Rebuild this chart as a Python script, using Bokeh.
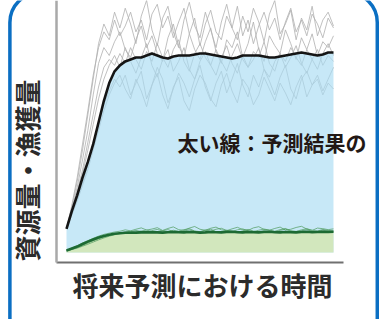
import math
from bokeh.plotting import figure
from bokeh.models import Range1d, FixedTicker, Label, BoxAnnotation, LinearAxis
from bokeh.embed import file_html
from bokeh.resources import INLINE

# ---- data ----
time = [0, 2, 4, 6, 8, 10, 12, 14, 16, 18,
        20, 22, 24, 26, 28, 30, 32, 34, 36, 38,
        40, 42, 44, 46, 48, 50, 52, 54, 56, 58,
        60, 62, 64, 66, 68, 70, 72, 74, 76, 78,
        80, 82, 84, 86, 88, 90, 92, 94, 96, 98,
        100]

# projected stock size: mean (thick black) and individual runs (grey)
stock_mean = [12, 21, 29, 38, 46, 55, 66, 77, 86, 92,
              95, 97, 98, 99, 99, 100, 101, 100, 99, 98.5,
              99.5, 100, 100, 100, 100.5, 101, 101, 100.5, 100, 99.5,
              99, 98.5, 99, 100, 100, 100, 100, 99.5, 99, 99,
              99.5, 100, 100.5, 101, 101.5, 101, 100.5, 100, 100.5, 101.5,
              101.5]

stock_run_a = [12, 24, 38, 55, 72, 90, 104, 112, 108, 118,
               110, 115, 122, 112, 118, 108, 121, 126, 114, 120,
               109, 117, 124, 111, 119, 105, 116, 123, 112, 108,
               120, 114, 125, 110, 118, 106, 115, 122, 113, 119,
               108, 117, 124, 112, 118, 110, 121, 116, 109, 119,
               114]
stock_run_b = [12, 20, 27, 35, 44, 55, 66, 75, 82, 88,
               84, 90, 80, 86, 92, 78, 85, 94, 88, 76,
               83, 91, 86, 79, 88, 95, 84, 77, 86, 92,
               81, 88, 96, 85, 79, 90, 84, 93, 87, 80,
               89, 95, 83, 78, 88, 92, 85, 90, 82, 88,
               94]
stock_run_c = [12, 22, 33, 47, 62, 80, 96, 104, 100, 107,
               112, 103, 99, 108, 115, 104, 110, 101, 97, 109,
               116, 105, 99, 111, 103, 98, 107, 114, 102, 96,
               108, 104, 112, 99, 106, 117, 103, 97, 110, 105,
               101, 113, 106, 98, 109, 103, 111, 100, 107, 104,
               110]
stock_run_d = [12, 19, 26, 34, 42, 52, 62, 72, 80, 86,
               90, 83, 78, 88, 82, 74, 85, 91, 80, 73,
               84, 89, 77, 72, 83, 90, 86, 78, 74, 85,
               91, 82, 76, 88, 84, 75, 80, 89, 83, 77,
               86, 81, 75, 84, 90, 79, 85, 88, 80, 86,
               83]
stock_run_e = [12, 23, 36, 52, 70, 88, 106, 116, 110, 122,
               114, 124, 116, 106, 120, 128, 113, 105, 119, 125,
               112, 104, 118, 127, 115, 109, 122, 113, 104, 117,
               126, 114, 108, 120, 112, 124, 117, 107, 121, 128,
               111, 116, 123, 108, 119, 113, 125, 110, 118, 122,
               115]
stock_run_f = [12, 21, 31, 42, 56, 70, 84, 94, 98, 95,
               101, 96, 104, 98, 93, 102, 97, 106, 99, 94,
               103, 108, 97, 92, 101, 106, 99, 95, 103, 97,
               92, 100, 106, 98, 94, 102, 99, 107, 96, 92,
               101, 97, 104, 99, 95, 103, 98, 93, 101, 106,
               100]
stock_run_g = [12, 20, 30, 40, 52, 65, 78, 88, 95, 100,
               94, 104, 97, 91, 99, 106, 95, 89, 98, 103,
               92, 97, 104, 93, 88, 97, 102, 95, 90, 99,
               105, 96, 91, 100, 94, 98, 104, 93, 89, 97,
               101, 94, 99, 105, 96, 91, 98, 103, 95, 100,
               97]

# projected catch: mean (thick green) and individual runs
catch_mean = [1, 2, 3, 4.3, 5.5, 6.6, 7.6, 8.4, 9.0, 9.5,
              9.8, 10, 10, 10.1, 10.2, 10.2, 10.3, 10.2, 10.1, 10.3,
              10.4, 10.3, 10.2, 10.4, 10.3, 10.1, 10.2, 10.4, 10.3, 10.2,
              10.4, 10.5, 10.3, 10.2, 10.4, 10.3, 10.2, 10.4, 10.5, 10.3,
              10.2, 10.4, 10.3, 10.2, 10.4, 10.5, 10.3, 10.4, 10.5, 10.4,
              10.5]
catch_run_a = [1, 2.2, 3.4, 4.8, 6, 7.2, 8.3, 9.2, 9.8, 10.4,
               10.8, 11.5, 11, 11.8, 12.5, 11.4, 11.9, 12.6, 11.2, 12.2,
               13, 11.6, 11.2, 12.4, 13.2, 11.8, 11.3, 12.3, 12.9, 11.5,
               11.1, 12, 12.8, 11.6, 11.2, 12.5, 13.1, 11.7, 11.3, 12.2,
               12.9, 11.4, 11.8, 12.7, 13.3, 11.9, 11.2, 12.4, 12.1, 11.6,
               12]
catch_run_b = [0.8, 1.6, 2.5, 3.6, 4.8, 6, 7, 8, 8.8, 9.4,
               9.9, 10.4, 10.8, 10.2, 10.9, 11.4, 10.6, 10.3, 11, 11.6,
               10.7, 10.2, 10.9, 11.5, 10.8, 10.3, 11.2, 11.8, 10.6, 10.4,
               11.3, 10.8, 10.2, 11, 11.7, 10.9, 10.4, 11.1, 10.6, 10.2,
               11.2, 11.9, 10.8, 10.3, 11, 11.6, 10.7, 10.5, 11.3, 10.9,
               10.6]
catch_run_c = [0.9, 1.5, 2.2, 3.2, 4.2, 5.3, 6.4, 7.4, 8.3, 9,
               9.6, 10.1, 10.6, 11.2, 10.7, 10.3, 11.1, 11.7, 10.9, 10.5,
               11.3, 10.8, 11.6, 12.1, 10.9, 10.6, 11.4, 10.9, 11.8, 12.3,
               11.2, 10.7, 11.5, 12, 11, 10.6, 11.3, 11.9, 11.4, 10.8,
               11.6, 12.2, 11.1, 10.7, 11.5, 12.1, 11.3, 10.9, 11.7, 11.2,
               11]

stock_runs = [stock_run_a, stock_run_b, stock_run_c, stock_run_d,
              stock_run_e, stock_run_f, stock_run_g]
catch_runs = [catch_run_a, catch_run_b, catch_run_c]
for s in stock_runs + catch_runs + [stock_mean, catch_mean]:
    if len(s) != len(time):
        raise ValueError("length mismatch %d" % len(s))

y_title = "資源量・漁獲量"
x_title = "将来予測における時間"
note_text = "太い線：予測結果の"

# axis extents (data units)
x_start, x_end = -3.75, 103.75
y_start, y_end = -5.08, 127.92

FONT = "Noto Sans CJK JP"

# ---- figure: the frame covers the whole canvas ----
p = figure(width=381, height=319, output_backend="svg", toolbar_location=None,
           x_range=Range1d(-24.72, 117.98), y_range=Range1d(-34.01, 127.92),
           x_axis_location=None, y_axis_location=None,
           min_border=0, min_border_left=0, min_border_right=0,
           min_border_top=0, min_border_bottom=0)
p.outline_line_color = None
p.grid.visible = False
p.background_fill_color = "white"
p.border_fill_color = "white"


def make_axis(fixed, bounds, color, width):
    ax = LinearAxis(fixed_location=fixed, bounds=bounds,
                    ticker=FixedTicker(ticks=[]))
    ax.major_tick_line_color = None
    ax.minor_tick_line_color = None
    ax.major_tick_out = 0
    ax.major_tick_in = 0
    ax.minor_tick_out = 0
    ax.minor_tick_in = 0
    ax.major_label_standoff = 0
    ax.major_label_text_font_size = "0px"
    ax.axis_line_color = color
    ax.axis_line_width = width
    return ax


# grey individual stock runs
for s in stock_runs:
    p.line(time, s, line_color="#b0b0b0", line_width=1, line_alpha=0.8)

# blue area under mean stock
p.varea(x=time, y1=[0] * len(time), y2=stock_mean, fill_color="#a9dbf3", fill_alpha=0.65)

# green area under mean catch
p.varea(x=time, y1=[0] * len(time), y2=catch_mean, fill_color="#d2e7bd", fill_alpha=1.0)

for s in catch_runs:
    p.line(time, s, line_color="#4f9a5c", line_width=1, line_alpha=0.7)

p.line(time, catch_mean, line_color="#1d6a33", line_width=2.6)
p.line(time, stock_mean, line_color="#151515", line_width=2.6)

p.add_layout(make_axis(x_start, (y_start, y_end), "#a9a9a9", 2.5), "left")
p.add_layout(make_axis(y_start, (x_start, x_end), "#707070", 2), "below")

# rounded frame of the panel (open at the bottom of the picture)
p.add_layout(BoxAnnotation(left=-21.2, right=116.4, top=132, bottom=-45,
                           fill_alpha=0, line_color="#0b6fc3", line_alpha=1.0,
                           line_width=3.5, border_radius=(30, 30, 0, 0)))

p.add_layout(Label(x=41.6, y=56.3, text=note_text, text_font=FONT,
                   text_font_style="bold", text_font_size="21px",
                   text_color="#231815", text_align="left", text_baseline="middle"))
p.add_layout(Label(x=50.9, y=-16.2, text=x_title, text_font=FONT,
                   text_font_style="bold", text_font_size="26px",
                   text_color="#2b2b2b", text_align="center", text_baseline="middle"))
p.add_layout(Label(x=-15.0, y=41.6, text=y_title, text_font=FONT,
                   text_font_style="bold", text_font_size="26px", angle=math.pi / 2,
                   text_color="#2b2b2b", text_align="center", text_baseline="middle"))

open("out.html", "w").write(file_html(p, INLINE))
